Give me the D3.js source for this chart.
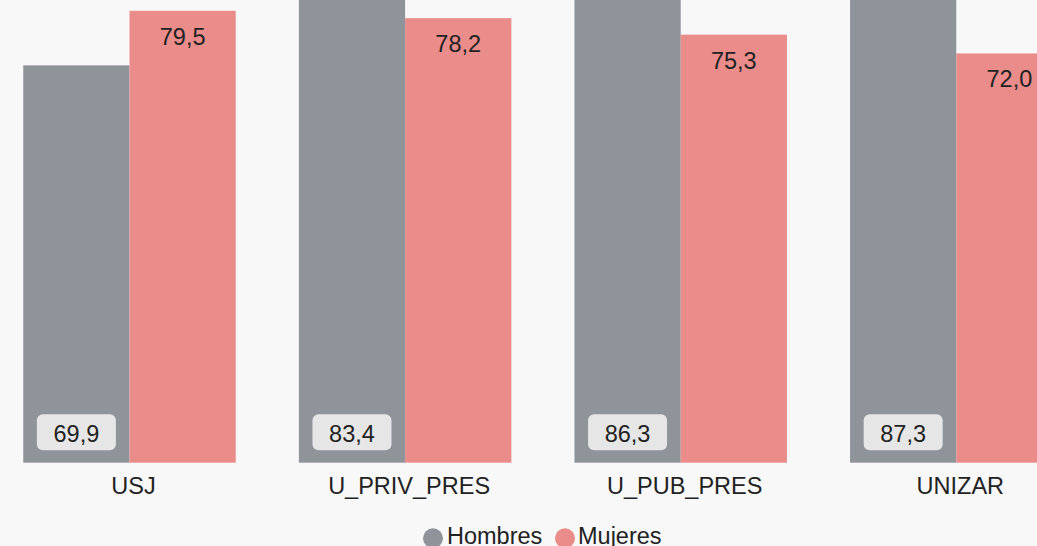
<!DOCTYPE html>
<html>
<head>
<meta charset="utf-8">
<script src="https://cdn.jsdelivr.net/npm/d3@7"></script>
<style>
  html, body { margin: 0; padding: 0; background: #f8f8f8; overflow: hidden; }
  svg { display: block; font-family: "Liberation Sans", Arial, sans-serif; }
</style>
</head>
<body>
<svg id="chart" width="1037" height="546"></svg>
<script>
const categories = ["USJ", "U_PRIV_PRES", "U_PUB_PRES", "UNIZAR"];
const seriesNames = ["Hombres", "Mujeres"];
const hombres = [69.9, 83.4, 86.3, 87.3];
const mujeres = [79.5, 78.2, 75.3, 72.0];
const colors = ["#8f949b", "#e98c8a"];

const svg = d3.select("#chart");
const W = 1037, H = 546;
svg.append("rect").attr("width", W).attr("height", H).attr("fill", "#f8f8f8");

const fmt = v => d3.format(".1f")(v).replace(".", ",");

const x0 = d3.scaleBand().domain(categories).range([-8.3, 1094.1]).paddingInner(0.229).paddingOuter(0.1145);
const x1 = d3.scaleBand().domain(seriesNames).range([0, x0.bandwidth()]);
const y = d3.scaleLinear().domain([0, 81.4]).range([462.7, 0]);

const data = categories.map((c, i) => ({cat: c, values: [hombres[i], mujeres[i]]}));

const groups = svg.selectAll("g.grp").data(data).join("g")
  .attr("class", "grp")
  .attr("transform", d => `translate(${x0(d.cat)},0)`);

groups.selectAll("rect.bar").data(d => d.values.map((v, j) => ({s: seriesNames[j], v, j})))
  .join("rect").attr("class", "bar")
  .attr("x", d => x1(d.s))
  .attr("y", d => y(d.v))
  .attr("width", x1.bandwidth())
  .attr("height", d => y(0) - y(d.v))
  .attr("fill", d => colors[d.j]);

// Hombres labels: boxed at bottom
groups.each(function(d) {
  const g = d3.select(this);
  const cx = x1("Hombres") + x1.bandwidth() / 2;
  g.append("rect")
    .attr("x", cx - 39.5).attr("y", y(0) - 48.5)
    .attr("width", 79).attr("height", 36)
    .attr("rx", 6).attr("fill", "#e6e6e6");
  g.append("text")
    .attr("x", cx).attr("y", y(0) - 21)
    .attr("text-anchor", "middle")
    .attr("font-size", "23.5px").attr("fill", "#222")
    .text(fmt(d.values[0]));
  const cx2 = x1("Mujeres") + x1.bandwidth() / 2;
  g.append("text")
    .attr("x", cx2).attr("y", y(d.values[1]) + 34)
    .attr("text-anchor", "middle")
    .attr("font-size", "23.5px").attr("fill", "#222")
    .text(fmt(d.values[1]));
});

// x axis labels
const xAxis = d3.axisBottom(x0).tickSize(0).tickPadding(0);
const ax = svg.append("g").attr("transform", `translate(4,${y(0)})`).call(xAxis);
ax.select(".domain").remove();
ax.selectAll("text")
  .attr("font-size", "23.5px").attr("fill", "#222")
  .attr("font-family", "'Liberation Sans', Arial, sans-serif")
  .attr("dy", null).attr("y", 31.5);

// legend
const legend = svg.append("g");
const legendItems = [
  {name: seriesNames[0], color: colors[0], cx: 433, tx: 447},
  {name: seriesNames[1], color: colors[1], cx: 565, tx: 578}
];
legendItems.forEach(it => {
  legend.append("circle").attr("cx", it.cx).attr("cy", 538.3).attr("r", 10).attr("fill", it.color);
  legend.append("text").attr("x", it.tx).attr("y", 543.5)
    .attr("font-size", "23.5px").attr("fill", "#222").text(it.name);
});
</script>
</body>
</html>
